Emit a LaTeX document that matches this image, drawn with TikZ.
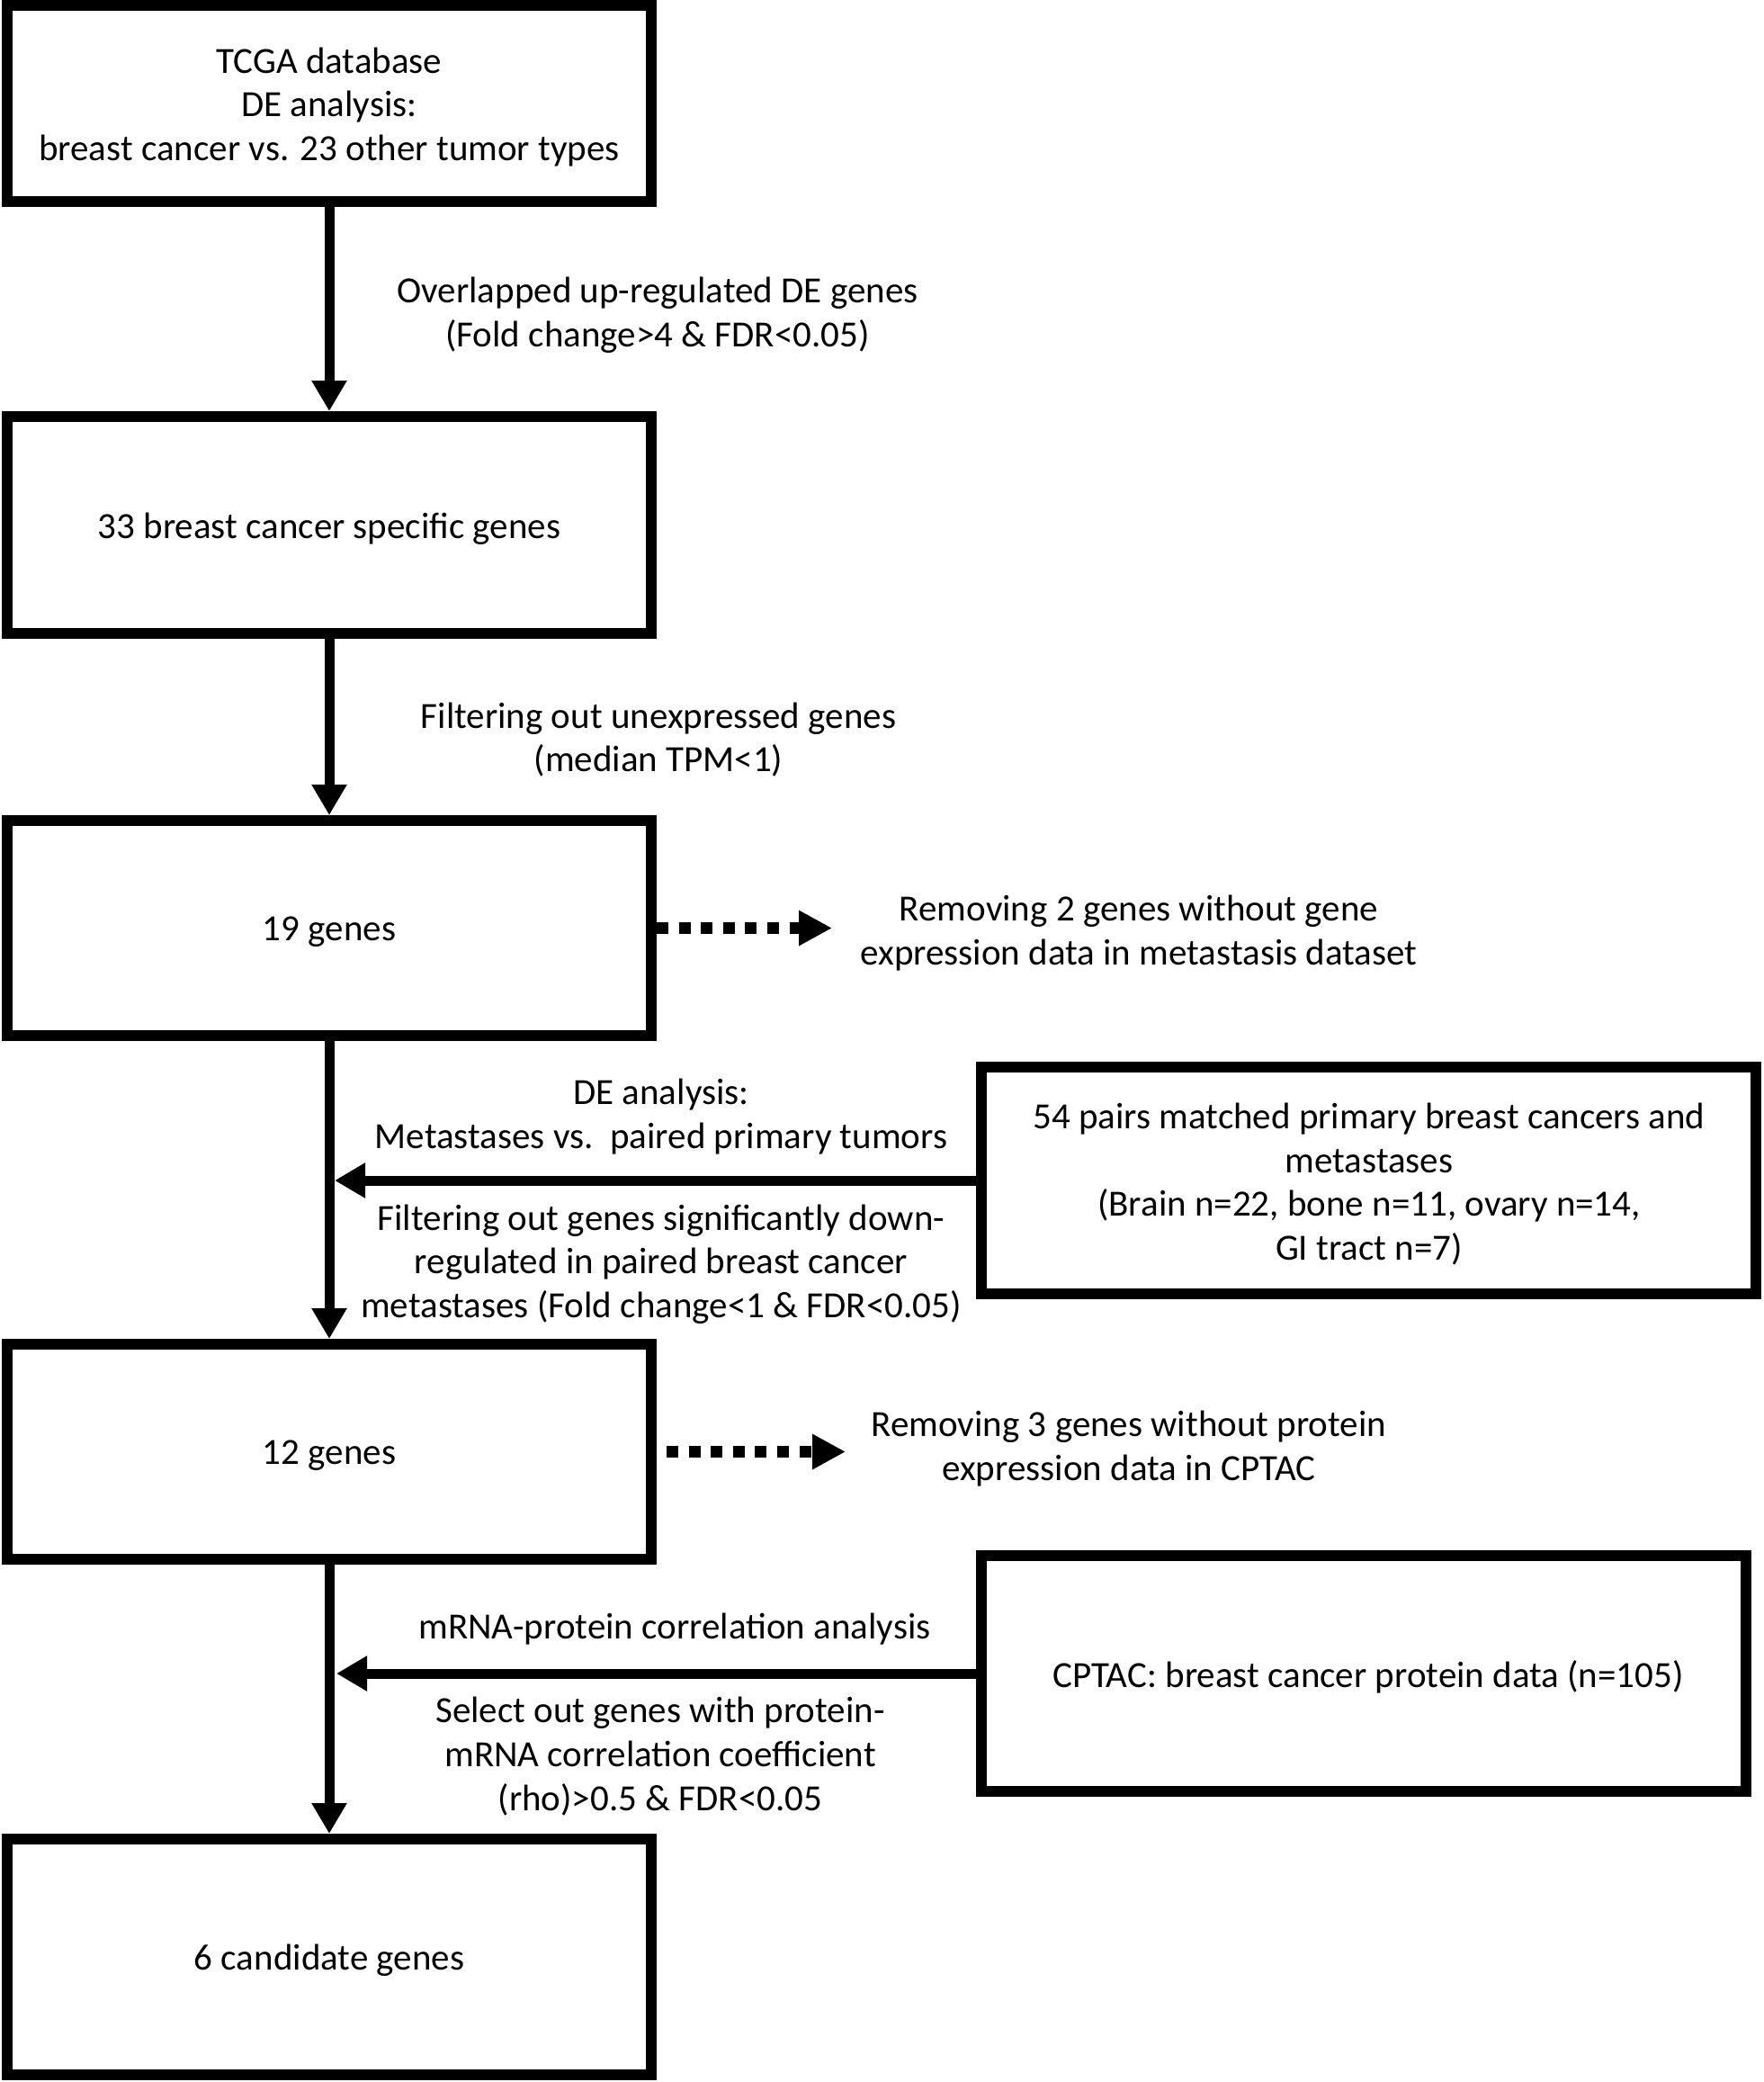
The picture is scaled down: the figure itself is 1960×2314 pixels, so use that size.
\documentclass[tikz,border=0pt]{standalone}
\usepackage{fontspec}
\setmainfont{Carlito}
\usetikzlibrary{arrows.meta}
\tikzset{
  box/.style={draw, line width=12pt, inner sep=0pt},
  lbl/.style={inner sep=0pt, align=center, font=\fontsize{41}{48.7}\selectfont},
  intext/.style={lbl, yshift=-4pt},
  flow/.style={line width=11pt, -{Triangle[length=34pt,width=37pt]}},
  dotflow/.style={line width=13pt, dash pattern=on 13pt off 11.6pt, -{Triangle[length=37pt,width=37pt]}}
}
\begin{document}
\begin{tikzpicture}[x=1pt,y=-1pt]
\useasboundingbox (0,0) rectangle (1960,2314);
% main column boxes
\node[box, minimum width=716pt, minimum height=218pt] (b1) at (366,115) {};
\node[box, minimum width=716pt, minimum height=241pt] (b2) at (366,583.5) {};
\node[box, minimum width=716pt, minimum height=239pt] (b3) at (366,1031.5) {};
\node[box, minimum width=716pt, minimum height=239pt] (b4) at (366,1613.5) {};
\node[box, minimum width=716pt, minimum height=262pt] (b5) at (366,2175) {};
% side boxes
\node[box, minimum width=861pt, minimum height=252pt] (bA) at (1521.5,1312) {};
\node[box, minimum width=850.5pt, minimum height=262pt] (bB) at (1516,1860) {};
% box texts
\node[intext] (t1) at (b1) {TCGA database\\DE analysis:\\breast cancer vs. 23 other tumor types};
\node[intext] (t2) at (b2) {33 breast cancer specific genes};
\node[intext] (t3) at (b3) {19 genes};
\node[intext] (t4) at (b4) {12 genes};
\node[intext] (t5) at (b5) {6 candidate genes};
\node[intext] (tA) at (1522,1312) {54 pairs matched primary breast cancers and\\metastases\\(Brain n=22, bone n=11, ovary n=14,\\GI tract n=7)};
\node[intext] (tB) at (1521,1860) {CPTAC: breast cancer protein data (n=105)};
% labels
\node[lbl] (l1) at (731,350) {Overlapped up-regulated DE genes\\(Fold change>4 \& FDR<0.05)};
\node[lbl] (l2) at (732,822) {Filtering out unexpressed genes\\(median TPM<1)};
\node[lbl] (l3) at (1266,1037) {Removing 2 genes without gene\\expression data in metastasis dataset};
\node[lbl] (l4) at (735,1241) {DE analysis:\\Metastases vs.\ \ paired primary tumors};
\node[lbl] (l5) at (735,1405) {Filtering out genes significantly down-\\regulated in paired breast cancer\\metastases (Fold change<1 \& FDR<0.05)};
\node[lbl] (l6) at (1255,1610) {Removing 3 genes without protein\\expression data in CPTAC};
\node[lbl] (l7) at (750,1811) {mRNA-protein correlation analysis};
\node[lbl] (l8) at (734,1952) {Select out genes with protein-\\mRNA correlation coefficient\\(rho)>0.5 \& FDR<0.05};
% junction and end coordinates
\coordinate (jA) at (372,1312);
\coordinate (jB) at (374,1860);
\coordinate (d1s) at (730,1031.5);
\coordinate (d1e) at (925,1031.5);
\coordinate (d2s) at (741,1613.5);
\coordinate (d2e) at (940,1613.5);
% connectors
\draw[flow] (b1) -- (b2);
\draw[flow] (b2) -- (b3);
\draw[flow] (b3) -- (b4);
\draw[flow] (b4) -- (b5);
\draw[flow] (bA.west) -- (jA);
\draw[flow] (bB.west) -- (jB);
\draw[dotflow] (d1s) -- (d1e);
\draw[dotflow] (d2s) -- (d2e);
\end{tikzpicture}
\end{document}
